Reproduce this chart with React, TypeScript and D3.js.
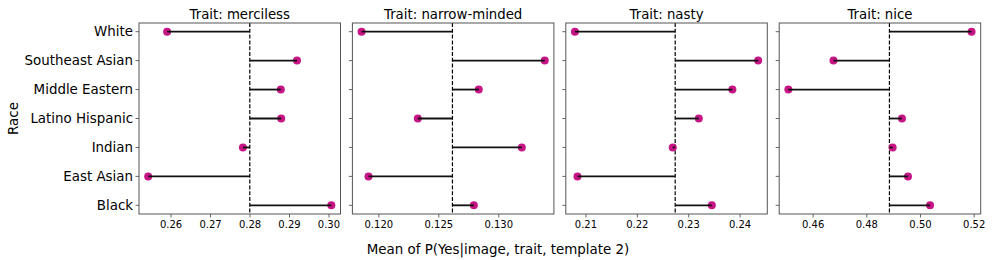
import React from "react";
import * as d3 from "d3";

const races = ["White", "Southeast Asian", "Middle Eastern", "Latino Hispanic", "Indian", "East Asian", "Black"];
const traits = ["merciless", "narrow-minded", "nasty", "nice"];
const merciless = [0.259, 0.2919, 0.2878, 0.2879, 0.2782, 0.2542, 0.3006];
const narrowMinded = [0.11856, 0.13383, 0.12833, 0.12325, 0.13192, 0.11914, 0.12792];
const nasty = [0.20786, 0.24351, 0.2385, 0.23196, 0.22689, 0.20835, 0.23449];
const nice = [0.51902, 0.46758, 0.45077, 0.4931, 0.48962, 0.49534, 0.50356];
const mercilessTicks = [0.26, 0.27, 0.28, 0.29, 0.3];
const narrowTicks = [0.12, 0.125, 0.13];
const nastyTicks = [0.21, 0.22, 0.23, 0.24];
const niceTicks = [0.46, 0.48, 0.5, 0.52];

const seriesList = [merciless, narrowMinded, nasty, nice];
const tickList = [mercilessTicks, narrowTicks, nastyTicks, niceTicks];
const tickFormats = [".2f", ".3f", ".2f", ".2f"];

const W = 996;
const H = 260;
const top = 23;
const bottom = 214;
const panelLeft0 = 139;
const panelStep = 213.4;
const panelW = 201.5;
const font = "DejaVu Sans, Liberation Sans, sans-serif";
const dotColor = "#c71585";
const spineColor = "#555";

const yScale = d3.scaleLinear().domain([-0.3, races.length - 1 + 0.3]).range([top, bottom]);

function Panel({ idx }: { idx: number }) {
  const vals = seriesList[idx];
  const left = panelLeft0 + idx * panelStep;
  const right = left + panelW;
  const [mn, mx] = d3.extent(vals) as [number, number];
  const pad = (mx - mn) * 0.05;
  const x = d3.scaleLinear().domain([mn - pad, mx + pad]).range([left, right]);
  const mean = d3.mean(vals) as number;
  const fmt = d3.format(tickFormats[idx]);
  return (
    <g>
      <text x={(left + right) / 2} y={18.5} textAnchor="middle" fontSize={13.3} fontFamily={font} fill="#000">
        {"Trait: " + traits[idx]}
      </text>
      {/* y ticks */}
      {races.map((r, i) => (
        <g key={r}>
          <line x1={left - 3.5} x2={left} y1={yScale(i)} y2={yScale(i)} stroke={spineColor} strokeWidth={0.9} />
          {idx === 0 && (
            <text x={left - 6} y={yScale(i)} dy="0.35em" textAnchor="end" fontSize={13.4} fontFamily={font} fill="#000">
              {r}
            </text>
          )}
        </g>
      ))}
      {/* x ticks */}
      {tickList[idx].map((t) => (
        <g key={t}>
          <line x1={x(t)} x2={x(t)} y1={bottom} y2={bottom + 3.5} stroke={spineColor} strokeWidth={0.9} />
          <text x={x(t)} y={228} textAnchor="middle" fontSize={10} fontFamily={font} fill="#000">
            {fmt(t)}
          </text>
        </g>
      ))}
      {/* mean line */}
      <line x1={x(mean)} x2={x(mean)} y1={top} y2={bottom} stroke="#000" strokeWidth={1.2} strokeDasharray="4,1.8" />
      {/* dots */}
      {vals.map((v, i) => (
        <circle key={"c" + i} cx={x(v)} cy={yScale(i)} r={4} fill={dotColor} />
      ))}
      {/* hlines */}
      {vals.map((v, i) => (
        <line key={"l" + i} x1={x(mean)} x2={x(v)} y1={yScale(i)} y2={yScale(i)} stroke="#111" strokeWidth={1.8} />
      ))}
      <rect x={left} y={top} width={panelW} height={bottom - top} fill="none" stroke={spineColor} strokeWidth={1} />
    </g>
  );
}

export default function App() {
  return (
    <svg width={W} height={H} style={{ position: "absolute", left: 0, top: 0, background: "#fff" }}>
      <rect x={0} y={0} width={W} height={H} fill="#fff" />
      {traits.map((t, i) => (
        <Panel key={t} idx={i} />
      ))}
      <text
        transform={`translate(18,118.5) rotate(-90)`}
        textAnchor="middle"
        fontSize={13.4}
        fontFamily={font}
        fill="#000"
      >
        Race
      </text>
      <text x={498} y={254} textAnchor="middle" fontSize={13.4} fontFamily={font} fill="#000">
        Mean of P(Yes|image, trait, template 2)
      </text>
    </svg>
  );
}
